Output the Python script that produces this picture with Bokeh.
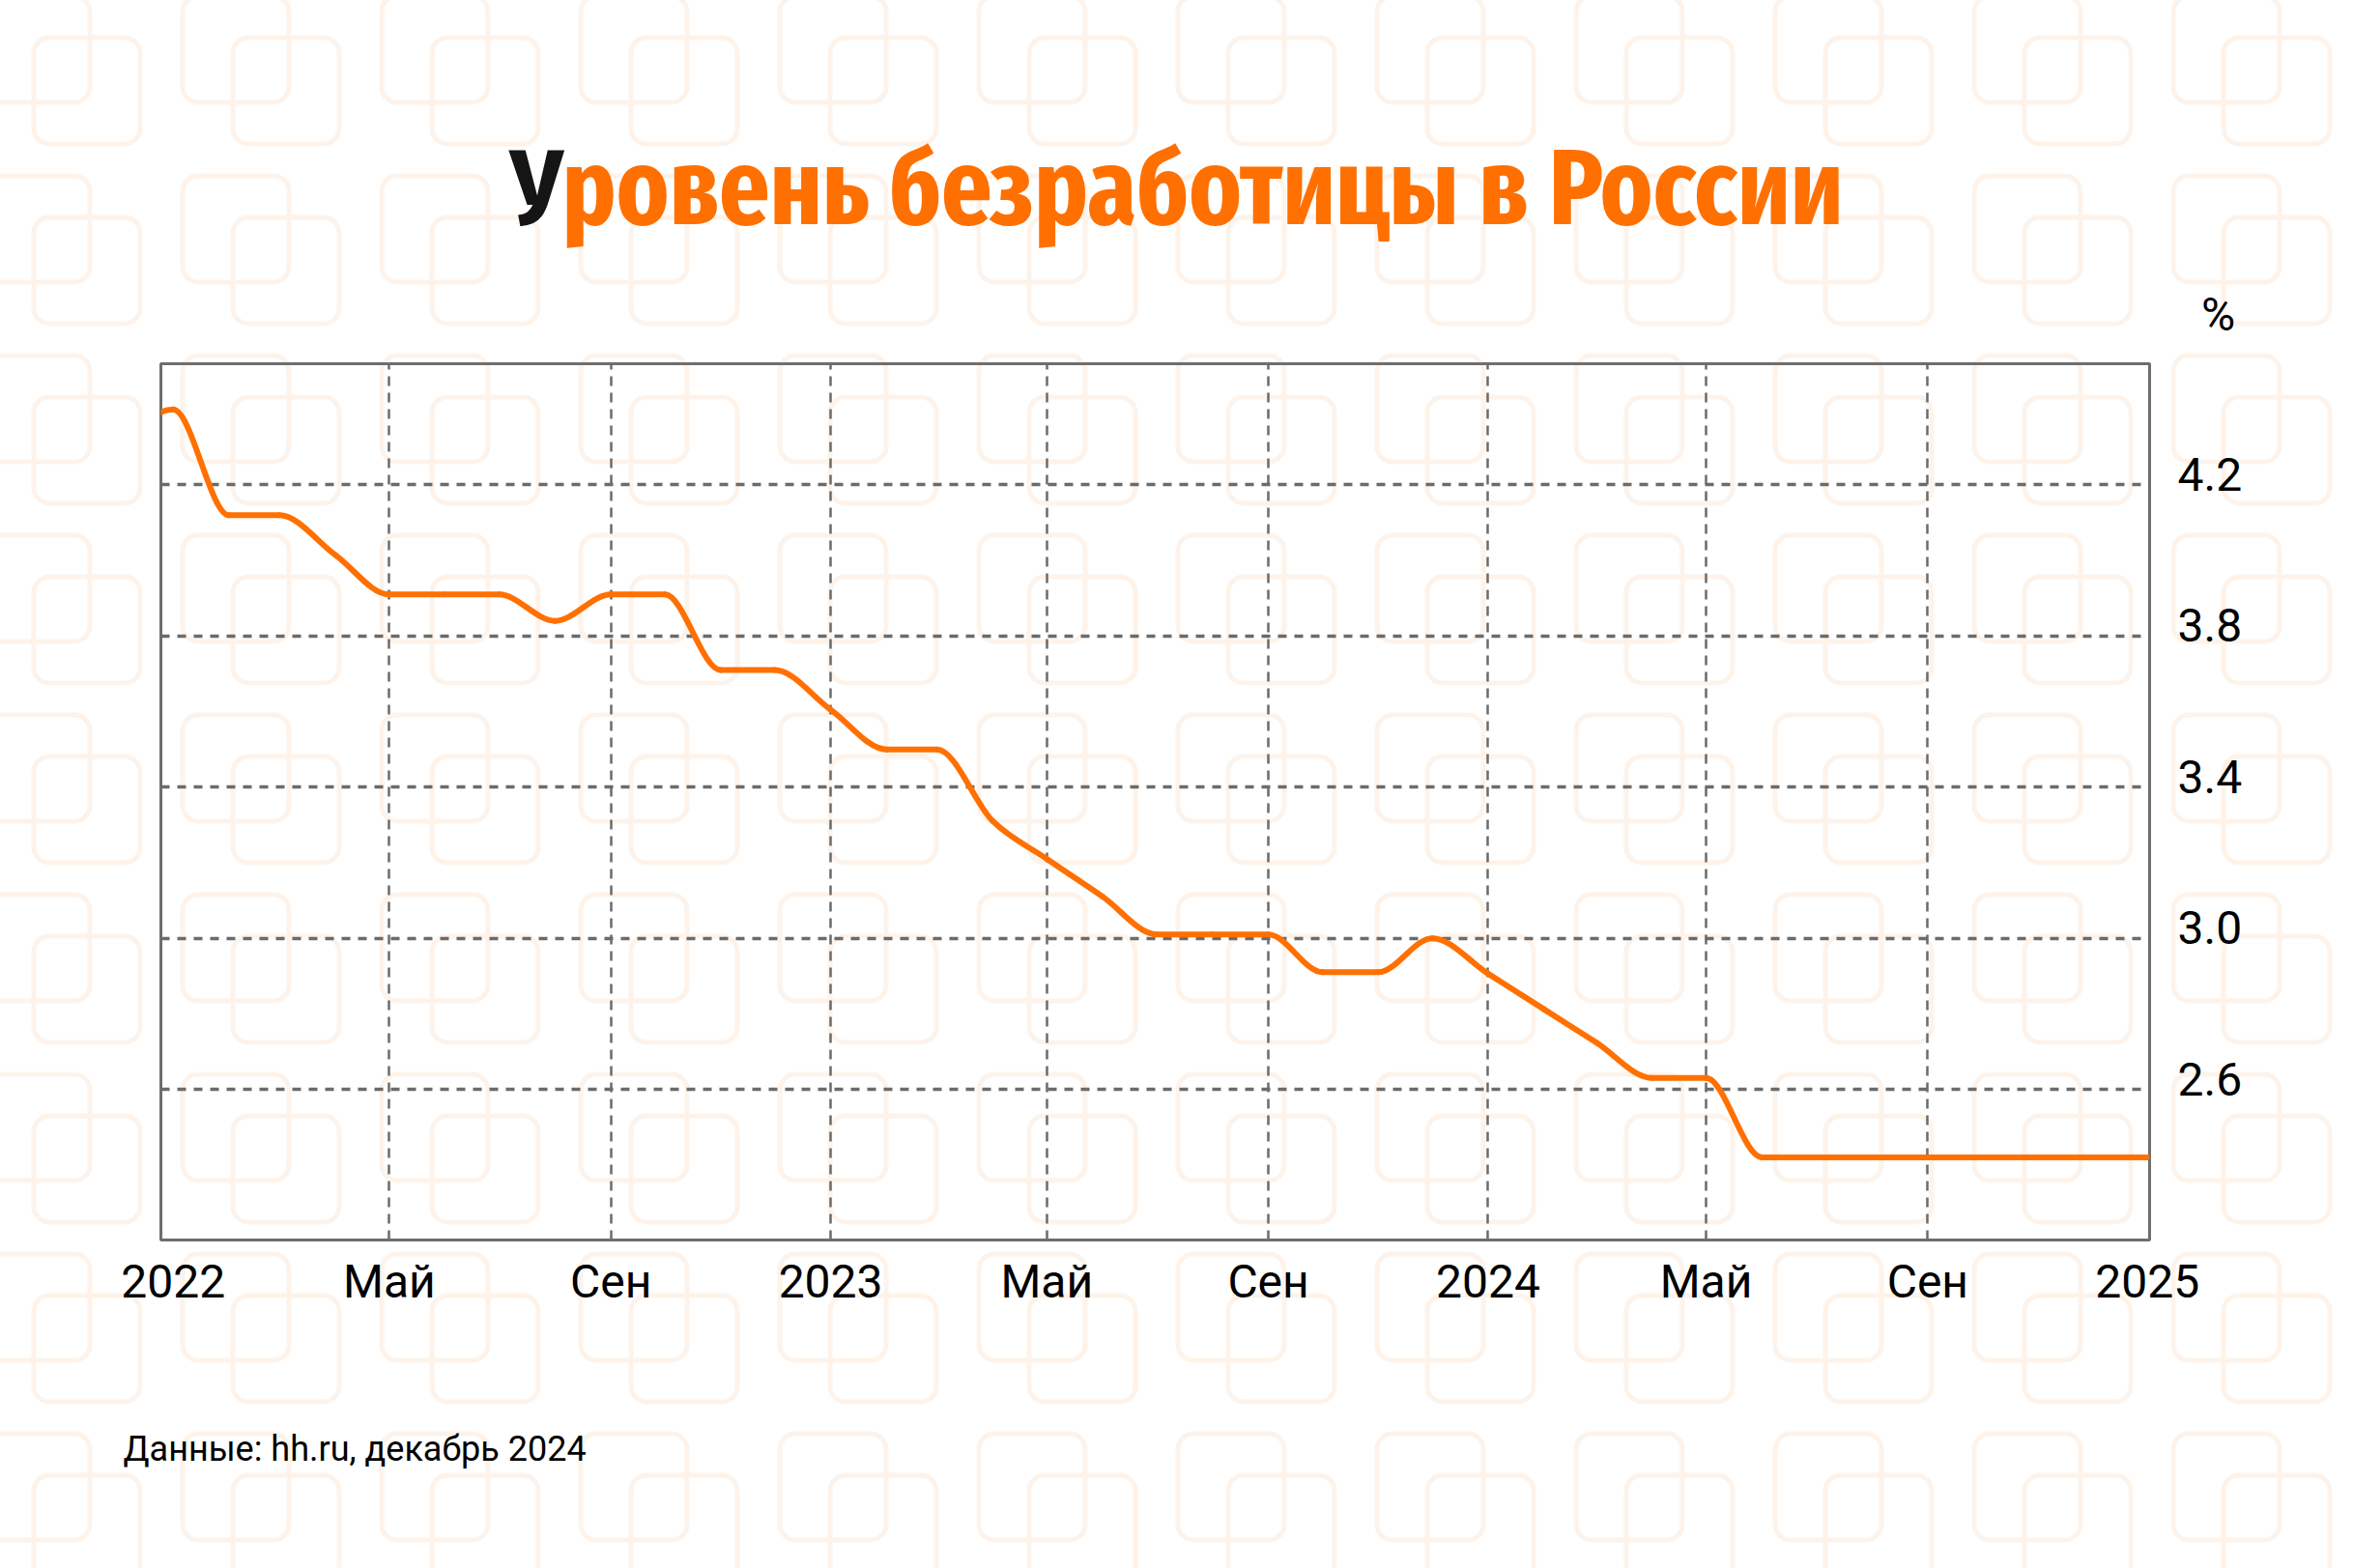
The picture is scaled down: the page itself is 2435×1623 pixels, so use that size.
import subprocess
import urllib.parse
import numpy as np
import pandas as pd
from bokeh.plotting import figure
from bokeh.models import (FixedTicker, Range1d, Label, Title, PrintfTickFormatter,
                          LinearAxis, Grid)
from bokeh.embed import file_html
from bokeh.resources import INLINE

# ---------------- data ----------------
months = ["2021-12", "2022-01", "2022-02", "2022-03", "2022-04", "2022-05", "2022-06",
          "2022-07", "2022-08", "2022-09", "2022-10", "2022-11", "2022-12",
          "2023-01", "2023-02", "2023-03", "2023-04", "2023-05", "2023-06",
          "2023-07", "2023-08", "2023-09", "2023-10", "2023-11", "2023-12",
          "2024-01", "2024-02", "2024-03", "2024-04", "2024-05", "2024-06",
          "2024-07", "2024-08", "2024-09", "2024-10", "2024-11", "2024-12", "2025-01"]
unemployment = [4.30, 4.40, 4.12, 4.12, 4.015, 3.91, 3.91,
                3.91, 3.84, 3.91, 3.91, 3.71, 3.71,
                3.605, 3.50, 3.50, 3.31, 3.21, 3.11,
                3.01, 3.01, 3.01, 2.91, 2.91, 3.00,
                2.906, 2.812, 2.724, 2.63, 2.63, 2.42,
                2.42, 2.42, 2.42, 2.42, 2.42, 2.42, 2.42]
tick_dates = ["2022-01-01", "2022-05-01", "2022-09-01", "2023-01-01", "2023-05-01",
              "2023-09-01", "2024-01-01", "2024-05-01", "2024-09-01", "2025-01-01"]
tick_labels = ["2022", "Май", "Сен", "2023", "Май", "Сен", "2024", "Май", "Сен", "2025"]
y_ticks = [2.6, 3.0, 3.4, 3.8, 4.2]
title_first = "У"
title_rest = "ровень безработицы в России"
unit_label = "%"
source_text = "Данные: hh.ru, декабрь 2024"

ORANGE = "#FF7000"
GRID = "#6b6b6b"


def ms(s):
    return int(pd.Timestamp(s).value // 1_000_000)


x = np.array([ms(m + "-01") for m in months], dtype=float)
y = np.array(unemployment, dtype=float)
tick_ms = [ms(d) for d in tick_dates]

# ---------------- canvas / frame ----------------
W, H = 2435, 1623
FL, FR, FT, FB = 166, 2224, 376, 1283
DAY = 86400000.0
Y0, Y1 = 2.201, 4.521

p = figure(width=W, height=H, x_axis_type="datetime", y_axis_location=None,
           output_backend="svg", toolbar_location=None,
           x_range=Range1d(ms("2022-01-01") - 6.8 * DAY, ms("2025-01-01") + 1.2 * DAY),
           y_range=Range1d(Y0, Y1),
           min_border_left=FL, min_border_right=W - FR,
           min_border_top=FT, min_border_bottom=H - FB)
p.border_fill_color = None
p.background_fill_color = None
p.outline_line_color = "#6e6e6e"
p.outline_line_width = 3

# background pattern (decorative) as CSS background
tw, th = 206, 186
sq = 110
pat_stroke = "#FEF3EA"
svg = (f'<svg xmlns="http://www.w3.org/2000/svg" width="{tw}" height="{th}">'
       f'<rect x="5" y="5" width="{sq}" height="{sq}" rx="16" fill="none" stroke="{pat_stroke}" stroke-width="5"/>'
       f'<rect x="57" y="48" width="{sq}" height="{sq}" rx="16" fill="none" stroke="{pat_stroke}" stroke-width="5"/>'
       '</svg>')
uri = "data:image/svg+xml;utf8," + urllib.parse.quote(svg)
p.styles = {"background-color": "white",
            "background-image": f'url("{uri}")',
            "background-repeat": "repeat",
            "background-position": "-22px -9px"}

# ---------------- axes ----------------
p.xaxis.ticker = FixedTicker(ticks=tick_ms)
p.xaxis.major_label_overrides = {t: lab for t, lab in zip(tick_ms, tick_labels)}

# right value axis; its labels sit ~11 px above their gridlines as in the original
lab_off = 11 * (Y1 - Y0) / (FB - FT)
p.extra_y_ranges = {"labels": Range1d(Y0 - lab_off, Y1 - lab_off)}
yax = LinearAxis(y_range_name="labels", ticker=FixedTicker(ticks=y_ticks),
                 formatter=PrintfTickFormatter(format="%.1f"))
p.add_layout(yax, "right")

for ax in (p.xaxis[0], yax):
    ax.axis_line_color = None
    ax.major_tick_in = 0
    ax.major_tick_out = 0
    ax.minor_tick_in = 0
    ax.minor_tick_out = 0
    ax.major_label_text_font = "Roboto"
    ax.major_label_text_font_size = "48px"
    ax.major_label_text_color = "#000000"
p.xaxis.major_label_standoff = 14
yax.major_label_standoff = 29

p.xgrid.ticker = FixedTicker(ticks=tick_ms[1:-1])
p.xgrid.grid_line_color = GRID
p.xgrid.grid_line_width = 2.5
p.xgrid.grid_line_dash = "10 7"
if len(p.ygrid) > 0:
    p.ygrid.ticker = FixedTicker(ticks=y_ticks)
    p.ygrid.grid_line_color = GRID
    p.ygrid.grid_line_width = 3.5
    p.ygrid.grid_line_dash = "9 8"
else:
    p.add_layout(Grid(dimension=1, ticker=FixedTicker(ticks=y_ticks), grid_line_color=GRID,
                      grid_line_width=3.5, grid_line_dash="9 8"))

# ---------------- smooth line (monotone cubic rendered as bezier segments) ----------------
h = np.diff(x)
s = np.diff(y) / h
m = np.zeros_like(y)
for i in range(1, len(y) - 1):
    h0, h1, s0, s1 = h[i - 1], h[i], s[i - 1], s[i]
    pp = (s0 * h1 + s1 * h0) / (h0 + h1)
    m[i] = (np.sign(s0) + np.sign(s1)) * min(abs(s0), abs(s1), 0.5 * abs(pp))
m[0] = (3 * s[0] - m[1]) / 2
m[-1] = (3 * s[-1] - m[-2]) / 2
p.bezier(x0=x[:-1], y0=y[:-1], x1=x[1:], y1=y[1:],
         cx0=x[:-1] + h / 3, cy0=y[:-1] + m[:-1] * h / 3,
         cx1=x[1:] - h / 3, cy1=y[1:] - m[1:] * h / 3,
         line_color=ORANGE, line_width=6, line_cap="round")

# ---------------- title font selection & measurement ----------------
def fc_families():
    try:
        out = subprocess.run(["fc-list", ":lang=ru", "family"], capture_output=True,
                             text=True, timeout=20).stdout
    except Exception:
        return set()
    fams = set()
    for line in out.splitlines():
        for f in line.split(","):
            fams.add(f.strip())
    return fams


fams = fc_families()
title_font = "DejaVu Sans Condensed"
for cand in ["Fira Sans Extra Condensed", "Fira Sans Condensed", "Open Sans Condensed",
             "PT Sans Narrow", "Roboto Condensed", "Liberation Sans Narrow"]:
    if cand in fams:
        title_font = cand
        break

TS = 136.0
wU, wR = 0.42 * TS, 9.0 * TS
try:
    from PIL import ImageFont
    path = subprocess.run(["fc-match", "-f", "%{file}", f"{title_font}:bold"],
                          capture_output=True, text=True, timeout=20).stdout.strip()
    fnt = ImageFont.truetype(path, int(TS))
    wU = fnt.getlength(title_first + title_rest[0]) - fnt.getlength(title_rest[0])
    wR = fnt.getlength(title_rest)
    total = wU + wR
    if total > 1380:
        k = 1380 / total
        TS, wU, wR = TS * k, wU * k, wR * k
except Exception:
    pass

X0 = W / 2 - (wU + wR) / 2
TBASE = 228  # title baseline (canvas px)
SHIFT = 0.30  # observed baseline offset of Label text, as a fraction of font size


def place(text, cx, cy, side, align, font, size, color, style="normal"):
    try:
        lab = Label(x=cx, y=cy - SHIFT * size, x_units="canvas", y_units="canvas", text=text,
                    text_font=font, text_font_size=f"{size:.1f}px", text_color=color,
                    text_font_style=style, text_align=align, text_baseline="alphabetic")
    except Exception:
        lab = Title(text=text, text_font=font, text_font_size=f"{size:.1f}px", text_color=color,
                    text_font_style=style, align="left", offset=cx - FL)
    p.add_layout(lab, side)


place(title_first, X0, TBASE, "left", "left", title_font, TS, "#151515", "bold")
place(title_rest, X0 + wU, TBASE, "above", "left", title_font, TS, ORANGE, "bold")
place(unit_label, 2295, 339, "right", "center", "Roboto", 48, "#000000")
place(source_text, 127, 1510, "below", "left", "Roboto", 36, "#000000")

open("out.html", "w").write(file_html(p, INLINE))
